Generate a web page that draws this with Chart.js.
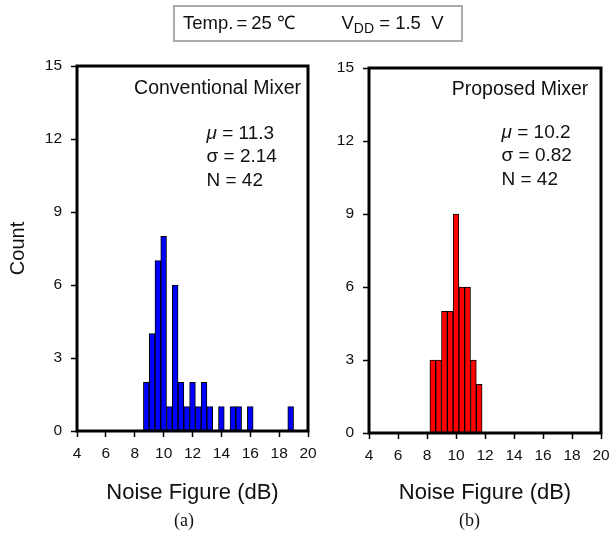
<!DOCTYPE html>
<html><head><meta charset="utf-8">
<script src="https://cdn.jsdelivr.net/npm/chart.js@4.4.1/dist/chart.umd.min.js"></script>
<style>
html,body{margin:0;padding:0;background:#fff;}
#wrap{position:relative;width:610px;height:535px;overflow:hidden;font-family:'Liberation Sans',Arial,sans-serif;color:#111;}
canvas{position:absolute;top:0;}
.t{position:absolute;white-space:nowrap;}
#hdr{position:absolute;left:173px;top:5px;width:290px;height:37px;box-sizing:border-box;border:2px solid #ababab;}
.ttl{font-size:19.5px;line-height:1;}
.st{font-size:19px;line-height:23.3px;}
.cap{font-family:'Liberation Serif','Times New Roman',serif;font-size:18px;line-height:20px;}
</style></head><body>
<div id="wrap">
<canvas id="ca" width="320" height="535" style="left:0"></canvas>
<canvas id="cb" width="290" height="535" style="left:320px"></canvas>
<div id="hdr"></div>
<div class="t" style="left:183px;top:13.6px;font-size:18.5px;line-height:1;">Temp.<span style="margin-left:3px">=</span><span style="margin-left:4px">25</span> ℃</div>
<div class="t" style="left:341.5px;top:13.6px;font-size:18.5px;line-height:1;">V<span style="font-size:14px;position:relative;top:4px">DD</span> = 1.5&nbsp; V</div>

<div class="t ttl" style="right:309px;top:77.5px;">Conventional Mixer</div>
<div class="t st" style="left:206.5px;top:121px;"><i>μ</i> = 11.3<br>σ = 2.14<br>N = 42</div>

<div class="t ttl" style="right:21.7px;top:78.5px;">Proposed Mixer</div>
<div class="t st" style="left:501.5px;top:120px;"><i>μ</i> = 10.2<br>σ = 0.82<br>N = 42</div>

<div class="t cap" style="left:174px;top:510px;">(a)</div>
<div class="t cap" style="left:459px;top:510px;">(b)</div>
</div>
<script>
// ---- data ----
const xTicks = [4, 6, 8, 10, 12, 14, 16, 18, 20];
const yTicks = [0, 3, 6, 9, 12, 15];

// Conventional mixer histogram (bin centres, dB) and counts
const convBinCenters = [8.8, 9.2, 9.6, 10.0, 10.4, 10.8, 11.2, 11.6, 12.0, 12.4, 12.8, 13.2, 13.6,
                        14.0, 14.4, 14.8, 15.2, 15.6, 16.0, 16.4, 16.8, 17.2, 17.6, 18.0, 18.4, 18.8];
const convCounts     = [2, 4, 7, 8, 1, 6, 2, 1, 2, 1, 2, 1, 0,
                        1, 0, 1, 1, 0, 1, 0, 0, 0, 0, 0, 0, 1];

// Proposed mixer histogram
const propBinCenters = [8.4, 8.8, 9.2, 9.6, 10.0, 10.4, 10.8, 11.2, 11.6];
const propCounts     = [3, 3, 5, 5, 9, 6, 6, 3, 2];

const FONT = "'Liberation Sans', Arial, sans-serif";

const framePlugin = {
  id: 'frame',
  afterDatasetsDraw(chart) {
    const {ctx, chartArea: a} = chart;
    ctx.save();
    ctx.lineWidth = 3;
    ctx.strokeStyle = '#000';
    ctx.strokeRect(a.left, a.top, a.right - a.left, a.bottom - a.top);
    ctx.restore();
  }
};

function makeChart(id, centers, counts, color, cfg) {
  const data = centers.map((c, i) => ({x: c, y: counts[i]}));
  return new Chart(document.getElementById(id), {
    type: 'bar',
    data: {
      datasets: [{
        data,
        backgroundColor: color,
        borderColor: '#000',
        borderWidth: 1,
        borderSkipped: false,
        barPercentage: 1,
        categoryPercentage: 1
      }]
    },
    options: {
      responsive: false,
      animation: false,
      events: [],
      layout: {padding: {left: 0, top: cfg.top, right: cfg.right, bottom: 0}},
      plugins: {legend: {display: false}, tooltip: {enabled: false}},
      scales: {
        x: {
          type: 'linear',
          offset: false,
          min: 4, max: 20,
          afterBuildTicks: s => { s.ticks = xTicks.map(v => ({value: v})); },
          afterFit: s => { s.height = cfg.xh; s.paddingLeft = 0; s.paddingRight = 0; },
          grid: {display: true, drawOnChartArea: false, drawTicks: true, tickLength: 6,
                 tickColor: '#000', tickWidth: 1.5, offset: false},
          border: {display: false},
          ticks: {color: '#111', padding: 7, maxRotation: 0, autoSkip: false,
                  font: {family: FONT, size: 15.5}},
          title: {display: true, text: 'Noise Figure (dB)', color: '#111',
                  font: {family: FONT, size: 22}, padding: {top: 0, bottom: 29}}
        },
        y: {
          min: 0, max: 15,
          afterBuildTicks: s => { s.ticks = yTicks.map(v => ({value: v})); },
          afterFit: s => { s.width = cfg.yw; s.paddingTop = 0; s.paddingBottom = 0; },
          grid: {display: true, drawOnChartArea: false, drawTicks: true, tickLength: 6,
                 tickColor: '#000', tickWidth: 1.5},
          border: {display: false},
          ticks: {color: '#111', padding: 9, font: {family: FONT, size: 15.5}},
          title: {display: cfg.ytitle, text: 'Count', color: '#111',
                  font: {family: FONT, size: 20}, padding: {top: 6, bottom: 0}}
        }
      }
    },
    plugins: [framePlugin]
  });
}

makeChart('ca', convBinCenters, convCounts, '#0000ff', {top: 66, right: 12, xh: 104, yw: 77, ytitle: true});
makeChart('cb', propBinCenters, propCounts, '#ff0000', {top: 68, right: 9, xh: 102, yw: 49, ytitle: false});
</script>
</body></html>
